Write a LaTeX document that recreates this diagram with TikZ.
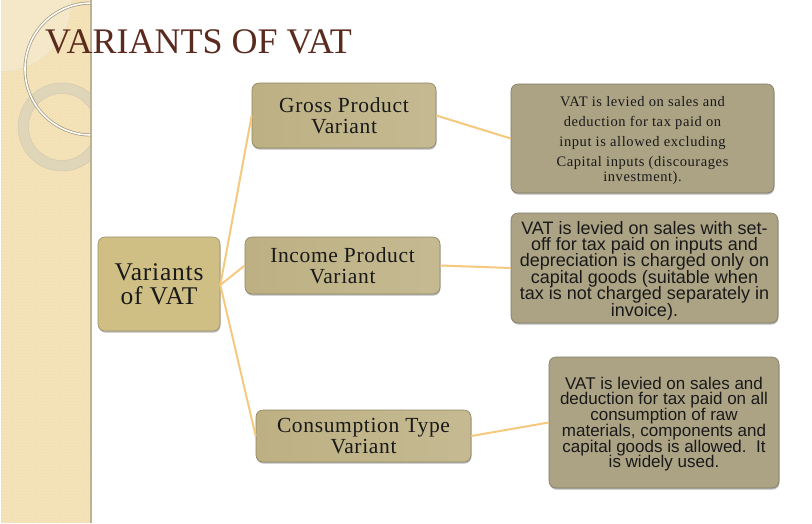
\documentclass[tikz,border=0pt]{standalone}
\usepackage{fontspec}
\setmainfont{Liberation Serif}
\setsansfont{Liberation Sans}
\newfontfamily\spacedserif[LetterSpace=3]{Liberation Serif}
\newfontfamily\notesserif[LetterSpace=4]{Liberation Serif}
\usetikzlibrary{shadows,patterns}
% keep the tight line pitch of the note cards exact
\lineskiplimit=-30pt
\definecolor{paneltan}{HTML}{F5E3B9}
\definecolor{panellight}{HTML}{F5EACC}
\definecolor{paneledge}{HTML}{BDB394}
\definecolor{panelgrain}{HTML}{E6CF9E}
\definecolor{titlebrown}{HTML}{5A2A1E}
\definecolor{linkorange}{HTML}{F6C97F}
\definecolor{rootfill}{HTML}{CFBF85}
\definecolor{midfill}{HTML}{BDB083}
\definecolor{notefill}{HTML}{ACA385}
\tikzset{
  x=1pt,y=-1pt,
  card/.style={draw=#1!75!black,line width=0.6pt,rounded corners=7pt,inner sep=0pt,
    drop shadow={shadow xshift=0.5pt,shadow yshift=-1.6pt,fill=black,opacity=0.28},
    align=center,text=black!90},
  rootcard/.style={card=rootfill,fill=rootfill,
    font=\spacedserif\fontsize{25.5}{24}\selectfont},
  midcard/.style={card=midfill,left color=midfill,right color=midfill!88!white,
    font=\spacedserif\fontsize{21.5}{21}\selectfont},
  notecard/.style={card=notefill,fill=notefill},
  noteserif/.style={notecard,font=\notesserif\fontsize{14.5}{15}\selectfont},
  notesanslarge/.style={notecard,font=\sffamily\fontsize{18}{16.4}\selectfont},
  notesanssmall/.style={notecard,font=\sffamily\fontsize{17}{15.7}\selectfont},
  link/.style={draw=linkorange,line width=2pt},
}
\newcommand{\boxat}[5]{%
  \node[#1,minimum width=#4-#3,minimum height=#5-#2] at ({(#3+#4)/2},{(#2+#5)/2})}
\begin{document}
\begin{tikzpicture}
\useasboundingbox (0,0) rectangle (812,523);
\fill[white] (0,0) rectangle (812,523);

% decorated side panel
\fill[paneltan] (1,0) rectangle (91,523);
\fill[pattern=crosshatch dots,pattern color=panelgrain,opacity=0.45] (1,0) rectangle (91,523);
\begin{scope}
  \clip (1,0) rectangle (90,523);
  \fill[panellight,fill opacity=0.85] (0,0) circle[radius=71];
  \draw[draw=white!70!paneledge,line width=0.5pt] (0,0) circle[radius=71];
  \draw[even odd rule,fill=black!10!panellight,draw=paneledge!70!white,line width=0.5pt,fill opacity=0.85]
    (62,127) circle[radius=44] (62,127) circle[radius=33.5];
  \draw[paneledge!85!black,line width=3pt] (91,69) circle[radius=66];
  \draw[white!90!paneltan,line width=1.6pt] (91,69) circle[radius=66];
\end{scope}
\fill[paneledge] (89.6,0) rectangle (91.6,523);

% title
\node[anchor=base west,inner sep=0pt,text=titlebrown,font=\fontsize{36}{38}\selectfont] (title) at (45,53) {VARIANTS OF VAT};

% diagram boxes
\boxat{rootcard}{237}{98}{220}{331} (root) {Variants\\of VAT};
\boxat{midcard}{83}{252}{436}{148} (gross) {Gross Product\\Variant};
\boxat{midcard}{237}{245}{440}{294} (income) {Income Product\\Variant};
\boxat{midcard}{410}{256}{471}{462} (consumption) {Consumption Type\\Variant};

\boxat{noteserif}{84}{511}{774}{193} (noteA) {%
  \rule{0pt}{14.5pt}VAT is levied on sales and\\[5pt]
  deduction for tax paid on\\[5pt]
  input is allowed excluding\\[5pt]
  Capital inputs (discourages\\
  investment).};
\boxat{notesanslarge}{213}{511}{778}{323} (noteB) {%
  \rule{0pt}{18pt}VAT is levied on sales with set-\\
  off for tax paid on inputs and\\
  depreciation is charged only on\\
  capital goods (suitable when\\
  tax is not charged separately in\\
  invoice).};
\boxat{notesanssmall}{357}{549}{779}{488} (noteC) {%
  \rule{0pt}{15.5pt}VAT is levied on sales and\\
  deduction for tax paid on all\\
  consumption of raw\\
  materials, components and\\
  capital goods is allowed.\ \ It\\
  is widely used.};

% connectors
\coordinate (hub) at ([yshift=-1pt]root.east);
\draw[link] (hub) -- (gross.west);
\draw[link] (hub) -- (income.west);
\draw[link] (hub) -- (consumption.west);
\draw[link] (gross.east) -- (noteA.west);
\draw[link] (income.east) -- (noteB.west);
\draw[link] (consumption.east) -- (noteC.west);
\end{tikzpicture}
\end{document}
